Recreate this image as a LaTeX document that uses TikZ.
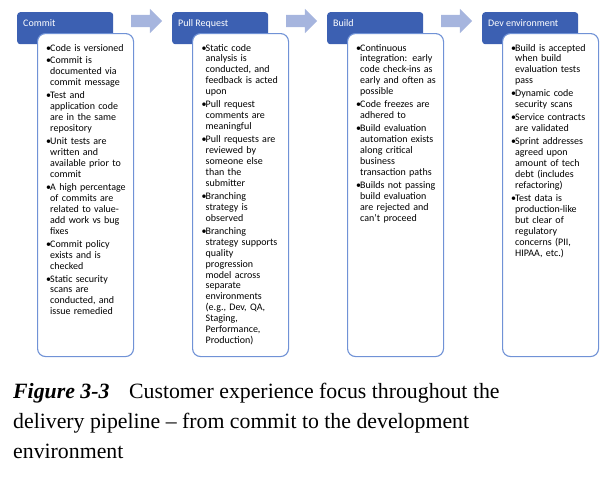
\documentclass[tikz,border=0pt]{standalone}
\usepackage{fontspec}
\setmainfont{Carlito}
\newfontfamily\capfont{Liberation Serif}
\usetikzlibrary{shapes.arrows}
\definecolor{hdrblue}{RGB}{60,96,178}
\definecolor{arrblue}{RGB}{166,181,222}
\definecolor{bodyline}{RGB}{112,146,214}
\newcommand\bfirst{\noindent\hspace*{-4pt}\makebox[4pt][l]{•}}
\newcommand\bi{\par\vspace{2pt}\bfirst}
\newcommand\bstart{\raggedright\leftskip=4pt\relax\parindent=0pt\relax}
\tikzset{
  hdr/.style={fill=hdrblue, rounded corners=3pt, minimum width=96pt, minimum height=32pt, inner sep=0pt, anchor=north west},
  hdrtext/.style={text=white, font=\fontsize{10pt}{12pt}\selectfont, anchor=base west, inner sep=0pt},
  bodybox/.style={draw=bodyline, line width=1.1pt, fill=white, rounded corners=8pt, minimum width=96pt, minimum height=323pt, inner sep=0pt, anchor=north west},
  btext/.style={text width=86pt, font=\fontsize{10pt}{10.95pt}\selectfont, anchor=base west, inner sep=0pt},
  flow/.style={single arrow, fill=arrblue, draw=none, minimum height=31pt, minimum width=24pt, text height=12pt, text depth=0pt, single arrow head extend=6pt, inner sep=0pt},
  captext/.style={font=\capfont\fontsize{21.8pt}{30pt}\selectfont, anchor=base west, inner sep=0pt},
}
\begin{document}
\begin{tikzpicture}[x=1pt,y=-1pt]
\useasboundingbox (0,0) rectangle (614,491);
% headers
\node[hdr] (h1) at (17,12) {};
\node[hdr] (h2) at (172,12) {};
\node[hdr] (h3) at (327,12) {};
\node[hdr] (h4) at (482,12) {};
\node[hdrtext] (h1t) at (23,26.5) {Commit};
\node[hdrtext] (h2t) at (178,26.5) {Pull Request};
\node[hdrtext] (h3t) at (333,26.5) {Build};
\node[hdrtext] (h4t) at (488,26.5) {Dev environment};
% arrows
\node[flow] (a1) at (143.5,21) {};
\node[flow] (a2) at (298.5,21) {};
\node[flow] (a3) at (453.5,21) {};
% bodies
\node[bodybox] (b1) at (37,33) {};
\node[bodybox] (b2) at (192,33) {};
\node[bodybox] (b3) at (347,33) {};
\node[bodybox] (b4) at (502,33) {};
% texts
\node[btext] (t1) at (46,51) {\bstart\bfirst Code is versioned
\bi Commit is\newline documented via\newline commit message
\bi Test and\newline application code\newline are in the same\newline repository
\bi Unit tests are\newline written and\newline available prior to\newline commit
\bi A high percentage\newline of commits are\newline related to value-\newline add work vs bug\newline fixes
\bi Commit policy\newline exists and is\newline checked
\bi Static security\newline scans are\newline conducted, and\newline issue remedied\par};
\node[btext] (t2) at (201.5,51) {\bstart\bfirst Static code\newline analysis is\newline conducted, and\newline feedback is acted\newline upon
\bi Pull request\newline comments are\newline meaningful
\bi Pull requests are\newline reviewed by\newline someone else\newline than the\newline submitter
\bi Branching\newline strategy is\newline observed
\bi Branching\newline strategy supports\newline quality\newline progression\newline model across\newline separate\newline environments\newline (e.g., Dev, QA,\newline Staging,\newline Performance,\newline Production)\par};
\node[btext] (t3) at (356,51) {\bstart\bfirst Continuous\newline integration: early\newline code check-ins as\newline early and often as\newline possible
\bi Code freezes are\newline adhered to
\bi Build evaluation\newline automation exists\newline along critical\newline business\newline transaction paths
\bi Builds not passing\newline build evaluation\newline are rejected and\newline can't proceed\par};
\node[btext] (t4) at (511,51) {\bstart\bfirst Build is accepted\newline when build\newline evaluation tests\newline pass
\bi Dynamic code\newline security scans
\bi Service contracts\newline are validated
\bi Sprint addresses\newline agreed upon\newline amount of tech\newline debt (includes\newline refactoring)
\bi Test data is\newline production-like\newline but clear of\newline regulatory\newline concerns (PII,\newline HIPAA, etc.)\par};
% caption
\node[captext] (c1) at (13,398) {\textbf{\textit{Figure 3-3}}\hspace{0.65em} Customer experience focus throughout the};
\node[captext] (c2) at (13,428) {delivery pipeline – from commit to the development};
\node[captext] (c3) at (13,458) {environment};
\end{tikzpicture}
\end{document}
